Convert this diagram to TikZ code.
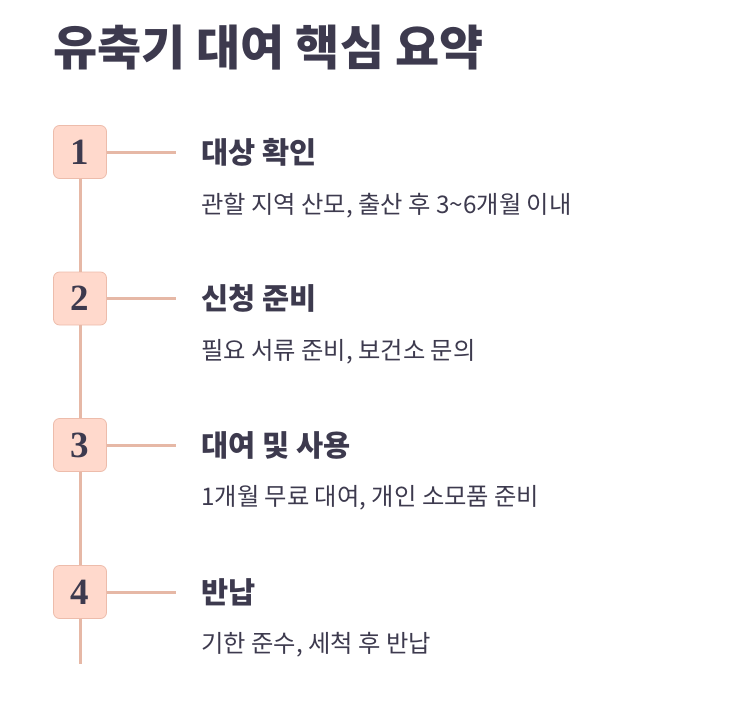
\documentclass[tikz,border=0pt]{standalone}
\usepackage{fontspec}
\newfontfamily\kr{Noto Sans CJK KR}
\newfontfamily\numf{Liberation Serif}
\definecolor{ink}{HTML}{3D3A4E}
\definecolor{boxfill}{HTML}{FFD9CC}
\definecolor{boxline}{HTML}{EDBCAB}
\definecolor{conn}{HTML}{E6B8A6}
\tikzset{
  numbox/.style={draw=boxline, fill=boxfill, rounded corners=6pt, minimum width=53pt, minimum height=53pt, inner sep=0pt, line width=0.8pt, text=ink, font=\numf\bfseries\fontsize{37}{37}\selectfont},
  conline/.style={draw=conn, line width=3pt},
  ttl/.style={anchor=west, inner sep=0pt, text=ink, font=\kr\bfseries\fontsize{29.5}{32}\selectfont},
  sub/.style={anchor=west, inner sep=0pt, text=ink, font=\kr\fontsize{24.3}{27}\selectfont},
  head/.style={anchor=west, inner sep=0pt, text=ink, font=\kr\bfseries\fontsize{48}{52}\selectfont}
}
\begin{document}
\begin{tikzpicture}[x=1pt,y=-1pt]
\useasboundingbox (0,0) rectangle (745,726);
\node[head] (h) at (53,48) {유축기 대여 핵심 요약};
\node[numbox] (b1) at (80,152) {1};
\node[numbox] (b2) at (80,298.5) {2};
\node[numbox] (b3) at (80,445) {3};
\node[numbox] (b4) at (80,592) {4};
\coordinate (e1) at (176,152);
\coordinate (e2) at (176,298.5);
\coordinate (e3) at (176,445);
\coordinate (e4) at (176,592);
\coordinate (bot) at (80,664);
\draw[conline] (b1.south) -- (b2.north);
\draw[conline] (b2.south) -- (b3.north);
\draw[conline] (b3.south) -- (b4.north);
\draw[conline] (b4.south) -- (bot);
\draw[conline] (b1.east) -- (e1);
\draw[conline] (b2.east) -- (e2);
\draw[conline] (b3.east) -- (e3);
\draw[conline] (b4.east) -- (e4);
\node[ttl] (t1) at (201,152) {대상 확인};
\node[sub] (s1) at (201,206) {관할 지역 산모, 출산 후 3\char"7E 6개월 이내};
\node[ttl] (t2) at (201,298.5) {신청 준비};
\node[sub] (s2) at (201,352) {필요 서류 준비, 보건소 문의};
\node[ttl] (t3) at (201,445) {대여 및 사용};
\node[sub] (s3) at (201,498) {1개월 무료 대여, 개인 소모품 준비};
\node[ttl] (t4) at (201,592) {반납};
\node[sub] (s4) at (201,645) {기한 준수, 세척 후 반납};
\end{tikzpicture}
\end{document}
